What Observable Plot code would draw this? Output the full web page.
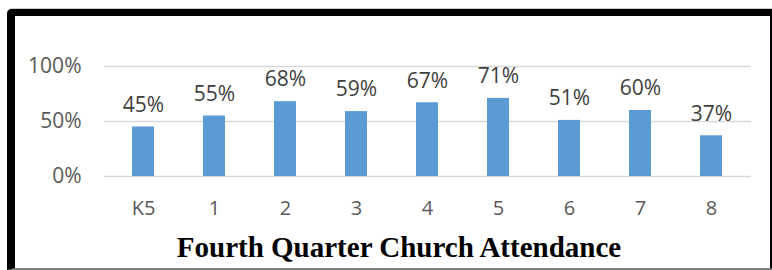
<!DOCTYPE html>
<html>
<head>
<meta charset="utf-8">
<script src="https://cdn.jsdelivr.net/npm/d3@7"></script>
<script src="https://cdn.jsdelivr.net/npm/@observablehq/plot@0.6"></script>
<style>
  html, body { margin: 0; padding: 0; background: #fff; width: 772px; height: 270px; overflow: hidden; }
  #frame {
    position: absolute; left: 7px; top: 9px;
    width: 755px; height: 252px;
    border-left: 8px solid #000; border-top: 7px solid #000; border-right: 7px solid #000;
    border-bottom: 2px solid #7f7f7f;
    border-top-left-radius: 5px;
    box-shadow: 0 -1px 0 #d0d0d0;
    overflow: hidden;
  }
  #title {
    box-sizing: border-box; width: 755px; padding-left: 13px;
    text-align: center; font-family: "Liberation Serif", "Times New Roman", serif;
    font-weight: bold; font-size: 29px; line-height: 30px; color: #000;
    margin-top: 8px;
  }
  svg { display: block; }
</style>
</head>
<body>
<div id="frame">
  <div id="chart"></div>
  <div id="title">Fourth Quarter Church Attendance</div>
</div>
<script>
const grades = ["K5", "1", "2", "3", "4", "5", "6", "7", "8"];
const attendance = [0.45, 0.55, 0.68, 0.59, 0.67, 0.71, 0.51, 0.60, 0.37];
const yTicks = [0, 0.5, 1];
const yTickLabels = ["0%", "50%", "100%"];

const data = grades.map((g, i) => ({grade: g, value: attendance[i]}));
const fontFamily = "'Open Sans', 'Noto Sans', sans-serif";

const chart = Plot.plot({
  width: 755,
  height: 208,
  marginLeft: 89,
  marginRight: 19,
  marginTop: 50,
  marginBottom: 48,
  style: {fontFamily, fontSize: "21px", background: "#fff"},
  x: {domain: grades, paddingInner: 0.69, paddingOuter: 0.345, label: null},
  y: {domain: [0, 1], label: null},
  marks: [
    Plot.ruleY(yTicks, {stroke: "#d9d9d9", strokeWidth: 1.5}),
    Plot.barY(data, {x: "grade", y: "value", fill: "#5b9bd5"}),
    Plot.text(data, {x: "grade", y: "value", text: d => Math.round(d.value * 100) + "%", dy: -22, fill: "#404040", fontSize: 21}),
    Plot.axisY({ticks: yTicks, tickFormat: (d) => yTickLabels[yTicks.indexOf(d)], tickSize: 0, tickPadding: 23, fill: "#595959", fontSize: 21, label: null}),
    Plot.axisX({tickSize: 0, tickPadding: 24, fill: "#595959", fontSize: 20, label: null})
  ]
});
document.getElementById("chart").appendChild(chart);
</script>
</body>
</html>
